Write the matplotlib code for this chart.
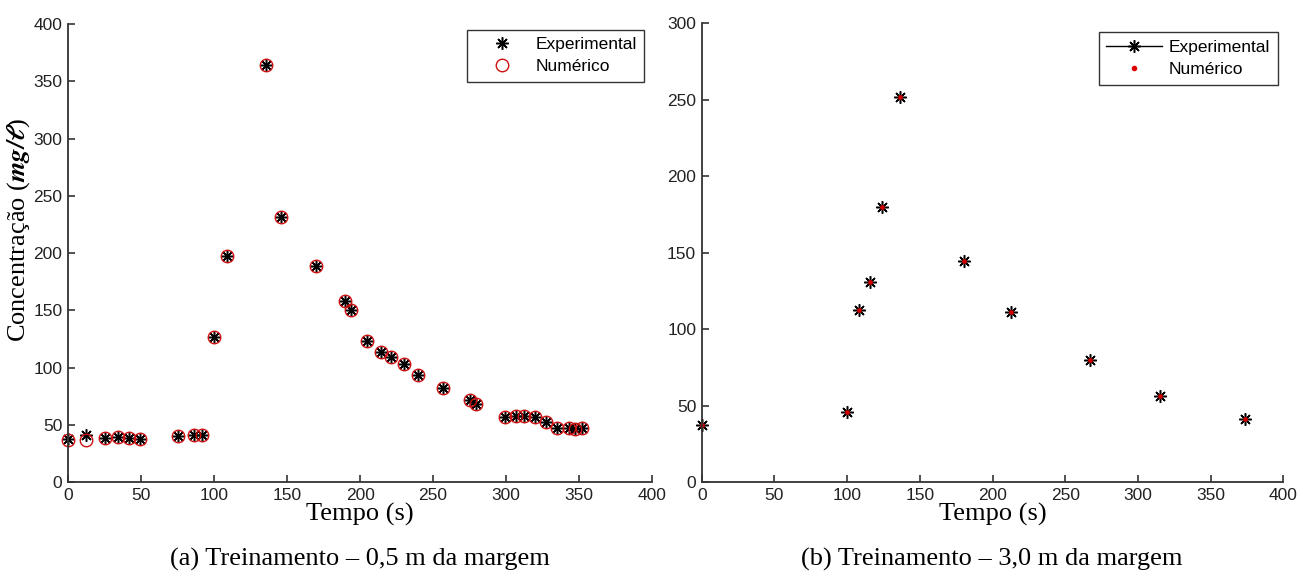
import numpy as np
import matplotlib
matplotlib.use('Agg')
import matplotlib.pyplot as plt
from matplotlib.lines import Line2D

plt.rcParams['font.family'] = ['Liberation Sans', 'DejaVu Sans']
plt.rcParams['mathtext.fontset'] = 'stix'

# (a) Treinamento - 0,5 m da margem
tempo_a = [0, 12, 25, 34.5, 42, 49, 75.5, 86, 92, 100, 109, 135.7, 146, 170,
           190, 194, 205, 214, 221.5, 230, 240, 257, 275, 279.5, 299.5, 307,
           312, 320, 327.5, 335, 343, 347.5, 352]
exp_a = [38, 41, 38.5, 39, 38.5, 38, 40, 41.5, 41.5, 127, 197.5, 364, 231.5,
         188.5, 158, 150, 123.5, 113.5, 109.5, 103, 93.5, 82.5, 71.5, 68, 57,
         57.5, 58, 57, 52.5, 47.5, 47.5, 46.5, 47.5]
num_a = [37, 37, 38.5, 39, 38.5, 38, 40, 41.5, 41.5, 127, 197.5, 364, 231.5,
         188.5, 158, 150, 123.5, 113.5, 109.5, 103, 93.5, 82.5, 72, 68, 57,
         57.5, 58, 57, 52.5, 47.5, 47.5, 46.5, 47.5]

# (b) Treinamento - 3,0 m da margem
tempo_b = [0, 100, 108, 115.5, 124, 136, 180.5, 213, 267, 315, 373.5]
exp_b = [37, 46, 112.5, 131, 180, 251.5, 144.5, 111.5, 80, 56, 41]
num_b = [37, 46, 112.5, 131, 180, 251.5, 144.5, 111.5, 80, 56, 41]

ast = (8, 2, 0)  # asterisco estilo matlab
serif = ['Liberation Serif', 'DejaVu Serif']

fig = plt.figure(figsize=(13.11, 5.72), dpi=100)
ax1 = fig.add_axes([0.0519, 0.1573, 0.4455, 0.8007])
ax2 = fig.add_axes([0.5353, 0.1573, 0.4436, 0.802])

def estilo(ax, ymax):
    ax.set_xlim(0, 400)
    ax.set_ylim(0, ymax)
    ax.set_xticks(np.arange(0, 401, 50))
    ax.set_yticks(np.arange(0, ymax + 1, 50))
    for s in ['top', 'right']:
        ax.spines[s].set_visible(False)
    for s in ['left', 'bottom']:
        ax.spines[s].set_linewidth(1.3)
        ax.spines[s].set_color('#333333')
    ax.tick_params(direction='in', length=5, width=1.2, labelsize=12.5,
                   colors='#333333', labelcolor='#222222', pad=4)
    ax.set_xlabel('Tempo (s)', fontsize=19, family=serif)
    ax.xaxis.set_label_coords(0.5, -0.046)

# grafico (a)
ax1.plot(tempo_a, exp_a, linestyle='none', marker=ast, markersize=9,
         markeredgewidth=1.1, color='black', label='Experimental',
         clip_on=False)
ax1.plot(tempo_a, num_a, linestyle='none', marker='o', markersize=9,
         markerfacecolor='none', markeredgecolor='#cc1111',
         markeredgewidth=1.0, label='Numérico', clip_on=False)
estilo(ax1, 400)
ax1.set_ylabel(r'Concentração ($\mathbfit{mg/\ell}$)', fontsize=19, family=serif)
ax1.yaxis.set_label_coords(-0.062, 0.55)
leg1 = ax1.legend(loc='upper right', bbox_to_anchor=(0.987, 0.988),
                  fontsize=12.5, frameon=True, fancybox=False,
                  edgecolor='black', handlelength=3.2, handletextpad=0.3,
                  borderpad=0.45, labelspacing=0.38, borderaxespad=0)
leg1.get_frame().set_linewidth(1.0)

# grafico (b)
ax2.plot(tempo_b, exp_b, linestyle='none', marker=ast, markersize=9,
         markeredgewidth=1.1, color='black', clip_on=False)
ax2.plot(tempo_b, num_b, linestyle='none', marker='.', markersize=5,
         color='#cc0000', clip_on=False)
estilo(ax2, 300)
proxies = [Line2D([], [], color='black', linewidth=1, marker=ast,
                  markersize=9, markeredgewidth=1.1),
           Line2D([], [], linestyle='none', marker='.', markersize=6,
                  color='#dd0000')]
leg2 = ax2.legend(proxies, ['Experimental', 'Numérico'], loc='upper right',
                  bbox_to_anchor=(0.991, 0.98), fontsize=12.5, frameon=True,
                  fancybox=False, edgecolor='black', handlelength=3.2,
                  handletextpad=0.4, borderpad=0.45, labelspacing=0.38,
                  borderaxespad=0)
leg2.get_frame().set_linewidth(1.0)

fig.text(360 / 1311, 1 - 559 / 572, '(a) Treinamento – 0,5 m da margem',
         ha='center', va='center', fontsize=19, family=serif)
fig.text(992 / 1311, 1 - 559 / 572, '(b) Treinamento – 3,0 m da margem',
         ha='center', va='center', fontsize=19, family=serif)

fig.savefig('out.png', dpi=100, facecolor='white')
